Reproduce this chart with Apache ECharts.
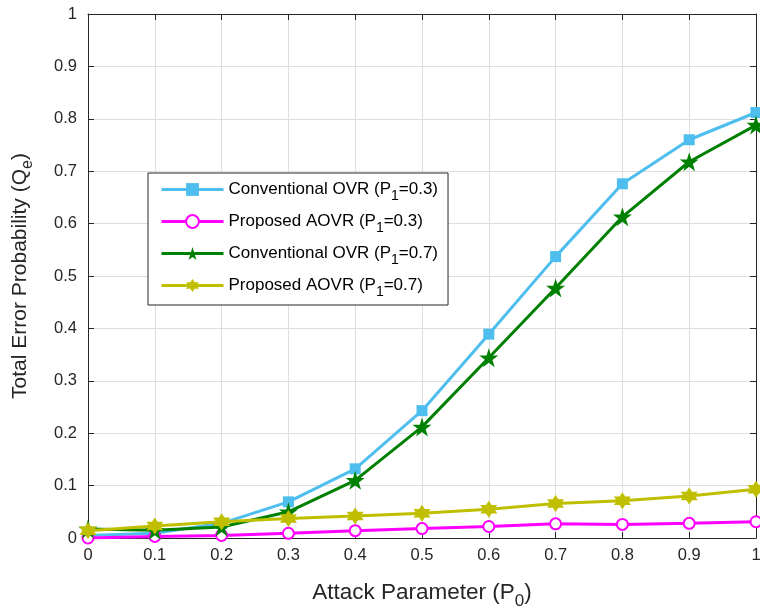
<!DOCTYPE html>
<html>
<head>
    <meta charset="utf-8">
    <title>Total Error Probability</title>
    <script src="https://cdn.jsdelivr.net/npm/echarts@6/dist/echarts.min.js"></script>
    <style>
        html, body { margin: 0; padding: 0; background: #fff; }
        #chart { width: 760px; height: 613px; }
    </style>
</head>
<body>
<div id="chart"></div>
<script>
    // attack parameter P0
    var p0 = [0, 0.1, 0.2, 0.3, 0.4, 0.5, 0.6, 0.7, 0.8, 0.9, 1];
    var xTicks = ['0', '0.1', '0.2', '0.3', '0.4', '0.5', '0.6', '0.7', '0.8', '0.9', '1'];
    var yTicks = ['0', '0.1', '0.2', '0.3', '0.4', '0.5', '0.6', '0.7', '0.8', '0.9', '1'];

    // values
    var ovr03  = [0.005, 0.009, 0.028, 0.069, 0.132, 0.243, 0.389, 0.537, 0.676, 0.760, 0.812];
    var aovr03 = [0.000, 0.003, 0.005, 0.009, 0.014, 0.018, 0.022, 0.027, 0.026, 0.028, 0.031];
    var ovr07  = [0.017, 0.015, 0.021, 0.050, 0.110, 0.212, 0.344, 0.477, 0.613, 0.718, 0.788];
    var aovr07 = [0.014, 0.023, 0.031, 0.037, 0.042, 0.047, 0.055, 0.066, 0.071, 0.080, 0.093];

    var names = ['Conventional OVR (P1=0.3)', 'Proposed AOVR (P1=0.3)',
                 'Conventional OVR (P1=0.7)', 'Proposed AOVR (P1=0.7)'];

    var pentagram = 'path://M0,-10 L2.245,-3.09 L9.511,-3.09 L3.633,1.18 L5.878,8.09 L0,3.82 L-5.878,8.09 L-3.633,1.18 L-9.511,-3.09 L-2.245,-3.09 Z';
    var hexagram = 'path://M0,-10 L2.887,-5 L8.66,-5 L5.774,0 L8.66,5 L2.887,5 L0,10 L-2.887,5 L-8.66,5 L-5.774,0 L-8.66,-5 L-2.887,-5 Z';

    var font = 'Liberation Sans, Arial, sans-serif';
    var textColor = '#262626';

    function pairs(ys) {
        return p0.map(function (x, i) { return [x, ys[i]]; });
    }

    function line(name, ys, color, symbol, size, z) {
        return {
            name: name,
            type: 'line',
            data: pairs(ys),
            symbol: symbol,
            symbolSize: size,
            showSymbol: true,
            z: z,
            lineStyle: { color: color, width: 3 },
            itemStyle: { color: color, borderColor: color, borderWidth: symbol === 'emptyCircle' ? 2.5 : 0 },
            emphasis: { disabled: true }
        };
    }

    // label with a dropped subscript
    function subRich(size, subSize, drop, color) {
        return {
            a: { fontSize: size, color: color, fontFamily: font },
            s: { fontSize: subSize, color: color, fontFamily: font, padding: [drop, 0, 0, 0] }
        };
    }

    var myChart = echarts.init(document.getElementById('chart'));
    myChart.setOption({
        animation: false,
        backgroundColor: '#fff',
        textStyle: { fontFamily: font },
        grid: { left: 88, right: 4, top: 14, bottom: 75, outerBoundsMode: 'none' },
        legend: {
            orient: 'vertical',
            left: 148,
            top: 173,
            padding: [8, 10, 6, 12],
            itemGap: 10,
            itemWidth: 62,
            itemHeight: 16,
            backgroundColor: '#fff',
            borderColor: '#262626',
            borderWidth: 1,
            borderRadius: 0,
            lineStyle: { width: 3 },
            data: names,
            formatter: function (n) {
                var m = n.match(/^(.*\(P)1(=.*\))$/);
                return '{a|' + m[1] + '}{s|1}{a|' + m[2] + '}';
            },
            textStyle: { rich: subRich(17, 14, 13, '#000') }
        },
        xAxis: [{
            type: 'value',
            min: 0, max: 1, interval: 0.1,
            name: '{a|Attack Parameter (P}{s|0}{a|)}',
            nameLocation: 'middle',
            nameGap: 38,
            nameTextStyle: { rich: subRich(22.5, 17, 17, textColor) },
            axisLine: { show: true, onZero: false, lineStyle: { color: textColor, width: 1 } },
            axisTick: { show: true, inside: true, length: 6, lineStyle: { color: textColor } },
            axisLabel: {
                fontSize: 16.5, color: textColor, margin: 9,
                formatter: function (v) { return xTicks[Math.round(v * 10)]; }
            },
            splitLine: { show: true, lineStyle: { color: '#dedede', width: 1 } }
        }, {
            type: 'value', position: 'top',
            min: 0, max: 1, interval: 0.1,
            axisLine: { show: true, onZero: false, lineStyle: { color: textColor, width: 1 } },
            axisTick: { show: true, inside: true, length: 6, lineStyle: { color: textColor } },
            axisLabel: { show: false },
            splitLine: { show: false }
        }],
        yAxis: [{
            type: 'value',
            min: 0, max: 1, interval: 0.1,
            name: '{a|Total Error Probability (Q}{s|e}{a|)}',
            nameLocation: 'middle',
            nameGap: 52,
            nameTextStyle: { rich: subRich(21, 16, 16, textColor) },
            axisLine: { show: true, onZero: false, lineStyle: { color: textColor, width: 1 } },
            axisTick: { show: true, inside: true, length: 6, lineStyle: { color: textColor } },
            axisLabel: {
                fontSize: 16.5, color: textColor, margin: 11,
                formatter: function (v) { return yTicks[Math.round(v * 10)]; }
            },
            splitLine: { show: true, lineStyle: { color: '#dedede', width: 1 } }
        }, {
            type: 'value', position: 'right',
            min: 0, max: 1, interval: 0.1,
            axisLine: { show: true, onZero: false, lineStyle: { color: textColor, width: 1 } },
            axisTick: { show: true, inside: true, length: 6, lineStyle: { color: textColor } },
            axisLabel: { show: false },
            splitLine: { show: false }
        }],
        series: [
            line(names[0], ovr03, '#4DBEEE', 'rect', 11, 3),
            line(names[1], aovr03, '#FF00FF', 'emptyCircle', 11, 4),
            line(names[2], ovr07, '#008000', pentagram, 19, 5),
            line(names[3], aovr07, '#BFBF00', hexagram, 17, 6)
        ]
    });
</script>
</body>
</html>
